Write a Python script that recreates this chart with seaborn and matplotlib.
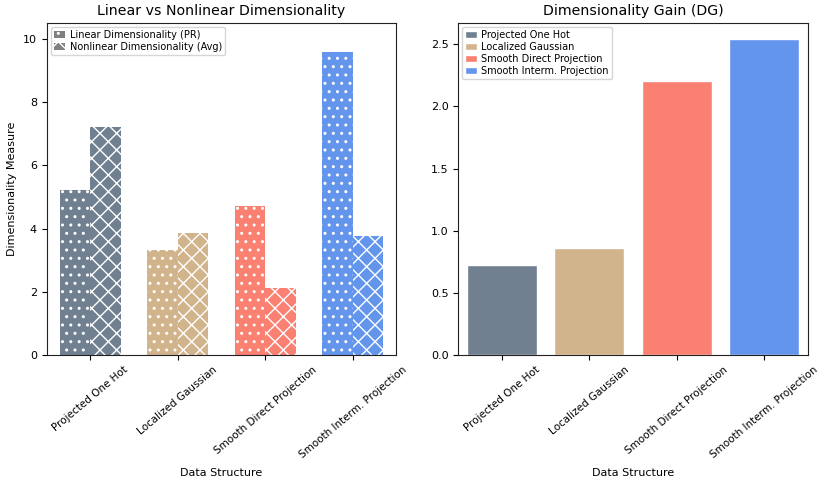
import matplotlib
matplotlib.use("Agg")
import matplotlib.pyplot as plt
from matplotlib.patches import Patch
import seaborn as sns
import pandas as pd

structures = ["Projected One Hot", "Localized Gaussian",
              "Smooth Direct Projection", "Smooth Interm. Projection"]
colors = ["slategray", "tan", "salmon", "cornflowerblue"]
linear_pr = [5.22, 3.32, 4.72, 9.59]
nonlinear_avg = [7.20, 3.86, 2.12, 3.75]
dim_gain = [0.724, 0.862, 2.205, 2.543]

metric_names = ["Linear Dimensionality (PR)", "Nonlinear Dimensionality (Avg)"]
hatches = ["..", "xx"]

sns.set_style("ticks", rc={
    "text.color": "black", "axes.labelcolor": "black",
    "xtick.color": "black", "ytick.color": "black",
    "axes.edgecolor": "#222222",
})
plt.rcParams["font.family"] = ["DejaVu Sans"]
plt.rcParams["hatch.color"] = "white"
plt.rcParams["hatch.linewidth"] = 1.0

fig, (ax1, ax2) = plt.subplots(1, 2, figsize=(8.2, 4.91), dpi=100)

# Left: linear vs nonlinear, grouped by structure
long_df = pd.DataFrame({
    "structure": structures * 2,
    "value": linear_pr + nonlinear_avg,
    "metric": [metric_names[0]] * 4 + [metric_names[1]] * 4,
})
sns.barplot(data=long_df, x="structure", y="value", hue="metric",
            hue_order=metric_names, order=structures, width=0.7,
            saturation=1, ax=ax1, legend=False, errorbar=None)
for m_idx, container in enumerate(ax1.containers):
    for s_idx, bar in enumerate(container):
        bar.set_facecolor(colors[s_idx])
        bar.set_edgecolor("white")
        bar.set_hatch(hatches[m_idx])
        bar.set_linewidth(0)
handles = [Patch(facecolor="gray", edgecolor="white", hatch=h, linewidth=0, label=n)
           for h, n in zip(hatches, metric_names)]
ax1.legend(handles=handles, loc="upper left", fontsize=7, handlelength=1.2,
           borderpad=0.3, labelspacing=0.2, handletextpad=0.5, borderaxespad=0.4)
ax1.set_title("Linear vs Nonlinear Dimensionality", fontsize=10.2)
ax1.set_xlabel("Data Structure", fontsize=8, labelpad=6)
ax1.set_ylabel("Dimensionality Measure", fontsize=8)
ax1.set_ylim(0, 10.5)

# Right: dimensionality gain per structure
gain_df = pd.DataFrame({"structure": structures, "gain": dim_gain})
sns.barplot(data=gain_df, x="structure", y="gain", hue="structure",
            order=structures, hue_order=structures, palette=colors,
            saturation=1, dodge=False, ax=ax2, legend=True, errorbar=None)
ax2.legend(loc="upper left", fontsize=7, handlelength=1.2, borderpad=0.3,
           labelspacing=0.2, handletextpad=0.5, borderaxespad=0.4)
ax2.set_title("Dimensionality Gain (DG)", fontsize=10.2)
ax2.set_xlabel("Data Structure", fontsize=8, labelpad=6)
ax2.set_ylabel("")
ax2.set_ylim(0, 2.67)

for ax in (ax1, ax2):
    ax.tick_params(axis="both", labelsize=8)
    ax.tick_params(axis="x", labelsize=7.5)
    plt.setp(ax.get_xticklabels(), rotation=40, ha="center")
    for sp in ax.spines.values():
        sp.set_visible(True)

fig.subplots_adjust(left=0.057, right=0.985, top=0.953, bottom=0.277, wspace=0.177)
fig.savefig("out.png", dpi=100)
